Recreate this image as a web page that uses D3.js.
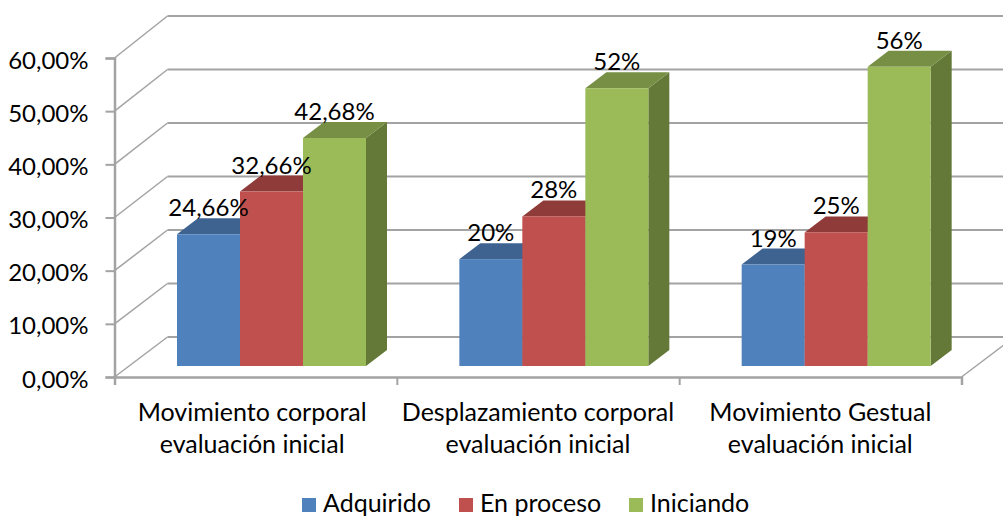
<!DOCTYPE html>
<html>
<head>
<meta charset="utf-8">
<script src="https://cdn.jsdelivr.net/npm/d3@7"></script>
<style>
  html, body { margin: 0; padding: 0; background: #fff; }
  svg { display: block; }
  text { font-family: Lato, "Open Sans", sans-serif; fill: #000; }
</style>
</head>
<body>
<div id="chart-area"></div>
<script>
// data
const categories = [
  ["Movimiento corporal", "evaluación inicial"],
  ["Desplazamiento corporal", "evaluación inicial"],
  ["Movimiento Gestual", "evaluación inicial"]
];
const seriesNames = ["Adquirido", "En proceso", "Iniciando"];
const adquirido = [24.66, 20, 19];
const enProceso = [32.66, 28, 25];
const iniciando = [42.68, 52, 56];
const yTicks = [0, 10, 20, 30, 40, 50, 60];

const seriesValues = [adquirido, enProceso, iniciando];
const frontColors = ["#4f81bd", "#c0504d", "#9bbb59"];
const topColors = ["#3e6390", "#8f3b39", "#778f45"];
const sideColors = ["#3a5f8c", "#8c3836", "#647837"];

// define the canvas
const canvasWidth = 1003;
const canvasHeight = 517;
const gridColor = "#a3a3a3";
const numberSize = 24;
const textSize = 25;

// depth of the chart box and of the bars
const wallDx = 53, wallDy = -40;
const barDx = 21, barDy = -16;

const svg = d3.select("#chart-area")
  .append("svg")
    .attr("width", canvasWidth)
    .attr("height", canvasHeight);

const esLocale = d3.formatLocale({decimal: ",", thousands: ".", grouping: [3], currency: ["", ""]});
const tickFormat = d => esLocale.format(".2f")(d) + "%";
const labelFormat = d => esLocale.format(".2~f")(d) + "%";

// Scales
const x = d3.scaleBand()
  .domain(d3.range(categories.length))
  .range([114.5, 961.5]);

// front plane of the box
const y = d3.scaleLinear().domain([0, 60]).range([377, 58]);
// front face of the bars, a bit deeper in the box
const yBar = d3.scaleLinear().domain([0, 60]).range([366, 45.5]);

const barInner = d3.scaleBand()
  .domain(d3.range(seriesNames.length))
  .range([0, 189]);
const barOffset = 62.5; // from the category tick to first bar

// back wall grid
const grid = svg.append("g").attr("class", "grid")
  .attr("stroke", gridColor).attr("fill", "none");

grid.selectAll(".back")
  .data(yTicks)
  .join("line")
    .attr("class", "back")
    .attr("x1", x.range()[0] + wallDx)
    .attr("x2", x.range()[1] + wallDx)
    .attr("y1", d => y(d) + wallDy - (d / 60) * 2)
    .attr("y2", d => y(d) + wallDy - (d / 60) * 2)
    .attr("stroke-width", 2);

// side wall diagonals
grid.selectAll(".diag")
  .data(yTicks)
  .join("line")
    .attr("class", "diag")
    .attr("x1", x.range()[0])
    .attr("x2", x.range()[0] + wallDx)
    .attr("y1", d => y(d))
    .attr("y2", d => y(d) + wallDy - (d / 60) * 2)
    .attr("stroke-width", 1.5);

// floor right edge
grid.append("line")
  .attr("x1", x.range()[1])
  .attr("x2", x.range()[1] + wallDx)
  .attr("y1", y(0))
  .attr("y2", y(0) + wallDy)
  .attr("stroke-width", 1.5);

// Axis
const yAxis = d3.axisLeft(y)
  .tickValues(yTicks)
  .tickSize(9)
  .tickPadding(17)
  .tickFormat(tickFormat);
const yAxisGroup = svg.append("g")
  .attr("class", "y-axis")
  .attr("transform", "translate(" + x.range()[0] + ",0)")
  .call(yAxis);

const xTickValues = d3.range(categories.length + 1);
const xAxis = d3.axisBottom(d3.scaleLinear().domain([0, categories.length]).range(x.range()))
  .tickValues(xTickValues)
  .tickSize(8)
  .tickFormat("");
const xAxisGroup = svg.append("g")
  .attr("class", "x-axis")
  .attr("transform", "translate(0," + y(0) + ")")
  .call(xAxis);

svg.selectAll(".y-axis .domain, .x-axis .domain")
  .attr("stroke", gridColor)
  .attr("stroke-width", 2.5);
svg.selectAll(".y-axis .tick line, .x-axis .tick line")
  .attr("stroke", gridColor)
  .attr("stroke-width", 2);
yAxisGroup.selectAll("text")
  .attr("font-size", numberSize)
  .attr("dy", "0.42em")
  .style("font-family", "Lato")
  .attr("fill", "#000");

// Bars, one group per category, series drawn left to right
const bars = svg.append("g").attr("class", "bars");
categories.forEach((cat, i) => {
  seriesValues.forEach((values, s) => {
    const left = x(i) + barOffset + barInner(s);
    const right = left + barInner.bandwidth();
    const top = yBar(values[i]);
    const bottom = yBar(0);

    // side
    bars.append("path")
      .attr("fill", sideColors[s])
      .attr("d", d3.line()([[right, top], [right + barDx, top + barDy], [right + barDx, bottom + barDy], [right, bottom]]) + "Z");
    // top
    bars.append("path")
      .attr("fill", topColors[s])
      .attr("d", d3.line()([[left, top], [left + barDx, top + barDy], [right + barDx, top + barDy], [right, top]]) + "Z");
    // front
    bars.append("rect")
      .attr("x", left)
      .attr("y", top)
      .attr("width", barInner.bandwidth())
      .attr("height", bottom - top)
      .attr("fill", frontColors[s]);
  });
});

// Data labels, on top of all bars
const labels = svg.append("g").attr("class", "labels");
categories.forEach((cat, i) => {
  seriesValues.forEach((values, s) => {
    labels.append("text")
      .attr("x", x(i) + barOffset + barInner(s) + barInner.bandwidth() / 2)
      .attr("y", yBar(values[i]) - 18)
      .attr("text-anchor", "middle")
      .attr("font-size", numberSize)
      .text(labelFormat(values[i]));
  });
});

// Category labels
const catLabels = svg.append("g").attr("class", "cat-labels");
categories.forEach((lines, i) => {
  const cx = x(i) + x.bandwidth() / 2 - (i === 0 ? 3.5 : 0);
  lines.forEach((line, j) => {
    catLabels.append("text")
      .attr("x", cx)
      .attr("y", 421 + j * 32)
      .attr("text-anchor", "middle")
      .attr("font-size", textSize)
      .text(line);
  });
});

// Legend
const legendSwatchX = [302, 459, 629];
const legend = svg.append("g").attr("class", "legend-group");
seriesNames.forEach((name, i) => {
  const legendRow = legend.append("g")
    .attr("transform", "translate(" + legendSwatchX[i] + ",498)");
  legendRow.append("rect")
    .attr("width", 14)
    .attr("height", 14)
    .attr("fill", frontColors[i]);
  legendRow.append("text")
    .attr("x", 21)
    .attr("y", 14)
    .attr("font-size", textSize)
    .text(name);
});
</script>
</body>
</html>
